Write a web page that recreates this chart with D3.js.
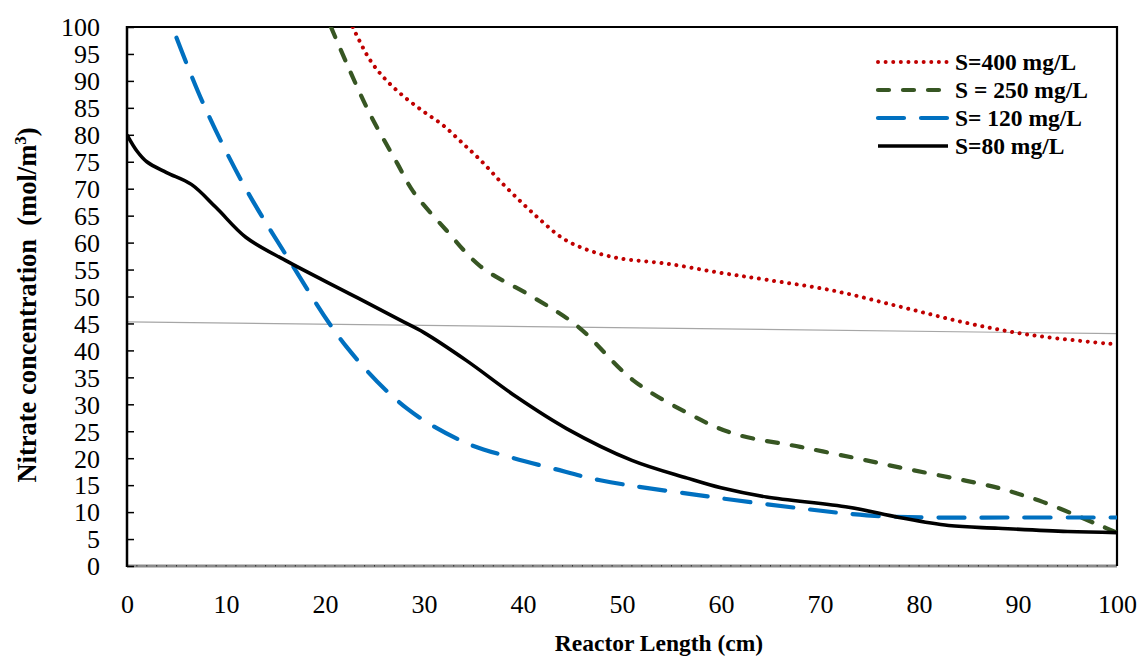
<!DOCTYPE html>
<html>
<head>
<meta charset="utf-8">
<script src="https://cdn.jsdelivr.net/npm/d3@7"></script>
<style>
  body { margin: 0; background: #fff; }
  svg { display: block; }
  svg text { font-family: "Times New Roman", "Liberation Serif", serif; }
</style>
</head>
<body>
<svg id="chart" width="1145" height="657"></svg>
<script>
// values
const xS80 = [0, 1, 2, 4, 6.5, 9, 12, 16, 22.5, 27.6, 30, 34.3, 39.4, 44.4, 51, 56.6, 60, 64.6, 72.9, 78, 83, 88, 95, 100];
const yS80 = [80, 77, 75, 73, 70.8, 66.5, 61, 56.7, 50.5, 45.6, 43.3, 38.1, 31.3, 25.5, 19.6, 16.3, 14.5, 12.8, 10.9, 9.0, 7.5, 7.0, 6.4, 6.2];

const xS120 = [5, 7.7, 11.7, 16.2, 22.2, 28.3, 34.3, 38.7, 43, 47.8, 57.9, 68, 74.7, 81.4, 90, 100];
const yS120 = [98, 85.8, 71, 57.3, 40.6, 29.2, 22.8, 20.2, 18.1, 15.9, 13.1, 10.7, 9.4, 9.0, 9.0, 9.0];

const xS250 = [20.6, 22.2, 24.5, 27.3, 28.9, 32.3, 35.7, 41, 45.5, 51.1, 56.6, 61.2, 68, 74.7, 78, 84.8, 88, 90, 92.5, 95.5, 98.3, 100];
const yS250 = [100, 93.2, 84, 74.7, 69.5, 62.2, 55.6, 49.9, 44.5, 34.5, 28.4, 24.6, 22.1, 19.6, 18.3, 15.8, 14.5, 13.4, 11.9, 9.7, 7.5, 6.2];

const xS400 = [22.8, 24.5, 26.1, 27.9, 29.9, 31.9, 33.8, 35.7, 37.9, 40, 42, 44, 46, 48, 50, 54.5, 59.6, 64.6, 71.3, 78.1, 84.8, 91.5, 100];
const yS400 = [100, 94, 90.3, 87.2, 84.4, 81.8, 78.6, 75.3, 71, 67.2, 63.8, 60.8, 59, 57.8, 57, 56.1, 54.5, 53.1, 51.1, 48.1, 45.1, 42.8, 41.1];

// thin grey straight line crossing the plot
const xTrend = [0, 100];
const yTrend = [45.3, 43.1];

const xTicks = [0, 10, 20, 30, 40, 50, 60, 70, 80, 90, 100];
const yTicks = d3.range(0, 101, 5);

const seriesNames = ["S=400 mg/L", "S = 250 mg/L", "S= 120 mg/L", "S=80 mg/L"];

const series = [
  { name: seriesNames[0], xs: xS400, ys: yS400, color: "#C00000", width: 4, dash: "0.01,7.6", cap: "round" },
  { name: seriesNames[1], xs: xS250, ys: yS250, color: "#375623", width: 4.2, dash: "11,14", cap: "round" },
  { name: seriesNames[2], xs: xS120, ys: yS120, color: "#0070C0", width: 4.2, dash: "26,17", cap: "round" },
  { name: seriesNames[3], xs: xS80, ys: yS80, color: "#000000", width: 3.6, dash: null, cap: "butt" }
];

const svg = d3.select("#chart");
const x = d3.scaleLinear().domain([0, 100]).range([127, 1117]);
const y = d3.scaleLinear().domain([0, 100]).range([566, 27]);

svg.append("defs").append("clipPath").attr("id", "plot")
  .append("rect")
  .attr("x", x(0)).attr("y", y(100))
  .attr("width", x(100) - x(0)).attr("height", y(0) - y(100));

// trend line
svg.append("line")
  .attr("x1", x(xTrend[0])).attr("y1", y(yTrend[0]))
  .attr("x2", x(xTrend[1])).attr("y2", y(yTrend[1]))
  .attr("stroke", "#a6a6a6").attr("stroke-width", 1.2);

// x axis: grey line with minor ticks, labels below
svg.append("line")
  .attr("x1", x(0)).attr("x2", x(100))
  .attr("y1", y(0)).attr("y2", y(0))
  .attr("stroke", "#8c8c8c").attr("stroke-width", 3);

svg.append("g")
  .selectAll("line")
  .data(d3.range(1, 100))
  .join("line")
  .attr("x1", d => x(d)).attr("x2", d => x(d))
  .attr("y1", y(0) - 1).attr("y2", y(0) + 0.5)
  .attr("stroke", "#333").attr("stroke-width", 1);

const xAxis = svg.append("g")
  .attr("transform", `translate(0,${y(0)})`)
  .call(d3.axisBottom(x).tickValues(xTicks).tickSize(0).tickPadding(0).tickFormat(d3.format("d")))
  .attr("font-family", null);
xAxis.select(".domain").remove();
xAxis.selectAll("text")
  .attr("y", 47).attr("dy", null)
  .attr("font-size", 26).attr("fill", "#000");

// y axis, ticks pointing inward
const yAxis = svg.append("g")
  .attr("transform", `translate(${x(0)},0)`)
  .call(d3.axisRight(y).tickValues(yTicks).tickSize(7).tickFormat(d3.format("d")))
  .attr("font-family", null);
yAxis.select(".domain").remove();
yAxis.selectAll("line").attr("stroke", "#000").attr("stroke-width", 1.5);
yAxis.selectAll("text")
  .attr("x", -27).attr("dy", "0.34em")
  .attr("text-anchor", "end")
  .attr("font-size", 26).attr("fill", "#000");

svg.append("line")
  .attr("x1", x(0)).attr("x2", x(0))
  .attr("y1", y(100) - 1).attr("y2", y(0) + 1)
  .attr("stroke", "#000").attr("stroke-width", 2.5);

// frame top and right
svg.append("path")
  .attr("d", `M${x(0)},${y(100)} H${x(100)} V${y(0)}`)
  .attr("fill", "none").attr("stroke", "#000").attr("stroke-width", 2.2);

// curves
const line = d3.line()
  .x(d => x(d[0]))
  .y(d => y(d[1]))
  .curve(d3.curveCatmullRom.alpha(0.5));

svg.append("g").attr("clip-path", "url(#plot)")
  .selectAll("path")
  .data(series)
  .join("path")
  .attr("d", s => line(d3.zip(s.xs, s.ys)))
  .attr("fill", "none")
  .attr("stroke", s => s.color)
  .attr("stroke-width", s => s.width)
  .attr("stroke-dasharray", s => s.dash)
  .attr("stroke-linecap", s => s.cap);

// legend
const legend = svg.append("g").attr("transform", "translate(878,62)");
const rows = legend.selectAll("g")
  .data(series)
  .join("g")
  .attr("transform", (d, i) => `translate(0,${i * 28})`);
rows.append("line")
  .attr("x1", 0).attr("x2", 70)
  .attr("stroke", d => d.color)
  .attr("stroke-width", d => d.width)
  .attr("stroke-dasharray", d => d.dash)
  .attr("stroke-linecap", d => d.cap);
rows.append("text")
  .attr("x", 77).attr("y", 8)
  .attr("font-size", 23.5).attr("font-weight", "bold")
  .text(d => d.name);

// axis titles
svg.append("text")
  .attr("x", 659).attr("y", 651)
  .attr("text-anchor", "middle")
  .attr("font-size", 23.5).attr("font-weight", "bold")
  .text("Reactor Length (cm)");

const yTitle = svg.append("text")
  .attr("transform", "translate(36,305) rotate(-90)")
  .attr("text-anchor", "middle")
  .attr("font-size", 26.5).attr("font-weight", "bold")
  .attr("xml:space", "preserve");
yTitle.append("tspan").text("Nitrate concentration  (mol/m");
yTitle.append("tspan").attr("dy", -10).attr("font-size", 17).text("3");
yTitle.append("tspan").attr("dy", 10).text(")");
</script>
</body>
</html>
